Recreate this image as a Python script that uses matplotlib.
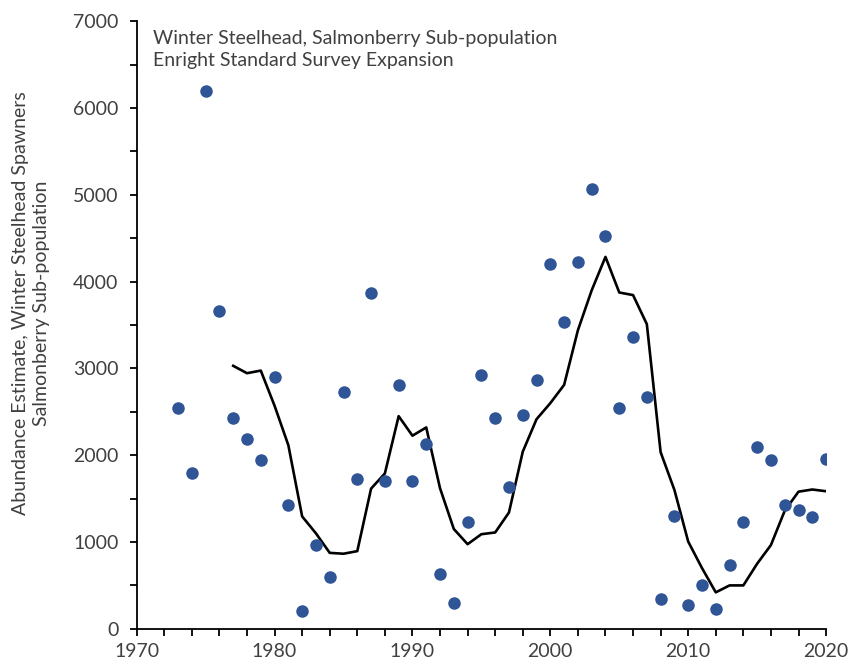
import numpy as np
import matplotlib
matplotlib.use("Agg")
import matplotlib.pyplot as plt
from matplotlib.ticker import MultipleLocator

plt.rcParams['font.family'] = ['Lato', 'DejaVu Sans']

# Annual spawner estimates (points)
years = list(range(1973, 2021))
abundance = [2540, 1800, 6200, 3660, 2430, 2190, 1940, 2900, 1430, 200,
             970, 600, 2730, 1730, 3870, 1700, 2810, 1700, 2130, 630,
             300, 1230, 2930, 2430, 1630, 2460, 2870, 4200, 3530, 4230,
             5070, 4530, 2540, 3360, 2670, 340, 1300, 270, 500, 230,
             730, 1230, 2100, 1940, 1430, 1370, 1290, 1960]

# Running average (line)
avg_years = list(range(1977, 2021))
running_avg = [3030, 2945, 2975, 2570, 2115, 1295, 1100, 875, 865, 895,
               1615, 1790, 2450, 2225, 2320, 1620, 1150, 975, 1090, 1110,
               1340, 2040, 2415, 2600, 2810, 3440, 3900, 4285, 3875, 3845,
               3510, 2035, 1600, 1005, 700, 420, 500, 500, 750, 965,
               1360, 1580, 1605, 1585]

fig = plt.figure(figsize=(8.49, 6.64), dpi=100)
ax = fig.add_axes([0.161, 0.053, 0.812, 0.915])

ax.plot(avg_years, running_avg, color='black', lw=1.9, zorder=2)
ax.plot(years, abundance, 'o', color='#2F5597', markersize=8, zorder=3)

ax.set_xlim(1970, 2020)
ax.set_ylim(0, 7000)
ax.xaxis.set_major_locator(MultipleLocator(10))
ax.xaxis.set_minor_locator(MultipleLocator(2))
ax.yaxis.set_major_locator(MultipleLocator(1000))
ax.yaxis.set_minor_locator(MultipleLocator(500))

for side in ['top', 'right']:
    ax.spines[side].set_visible(False)
for side in ['left', 'bottom']:
    ax.spines[side].set_linewidth(1.3)
    ax.spines[side].set_color('black')

ax.tick_params(axis='x', which='major', direction='out', length=5, width=1.3,
               labelsize=14, labelcolor='#404040', pad=5)
ax.tick_params(axis='x', which='minor', direction='out', length=5, width=1.3)
ax.tick_params(axis='y', which='major', direction='out', length=5, width=1.3,
               labelsize=14, labelcolor='#404040', pad=8)
ax.tick_params(axis='y', which='minor', direction='out', length=5, width=1.3)

fig.text(31 / 849, 1 - 303 / 664,
         'Abundance Estimate, Winter Steelhead Spawners\nSalmonberry Sub-population',
         rotation=90, ha='center', va='center', fontsize=14,
         color='#404040', linespacing=1.25)

ax.text(0.024, 0.985, 'Winter Steelhead, Salmonberry Sub-population\nEnright Standard Survey Expansion',
        transform=ax.transAxes, ha='left', va='top', fontsize=14,
        color='#404040', linespacing=1.35)

fig.savefig('out.png', dpi=100)
